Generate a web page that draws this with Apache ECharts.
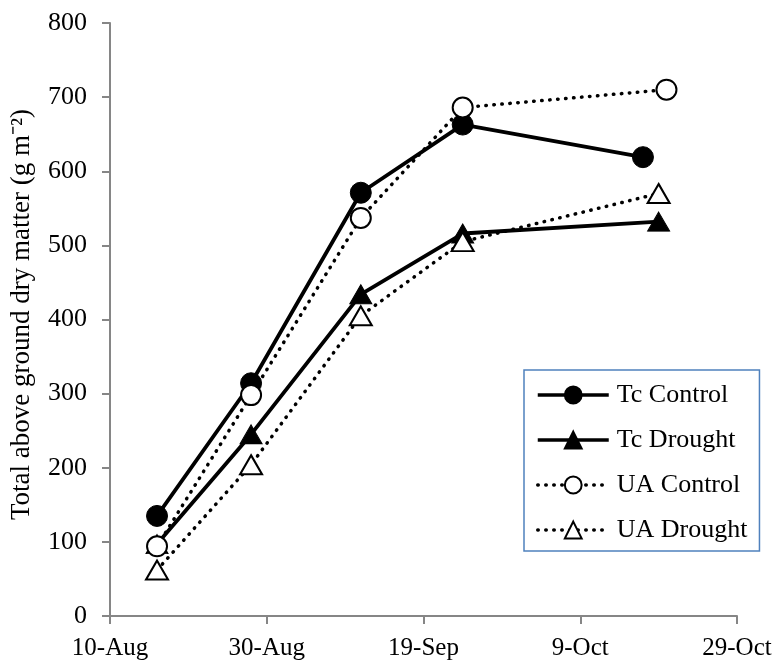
<!DOCTYPE html>
<html>
<head>
<meta charset="utf-8">
<script src="https://cdn.jsdelivr.net/npm/echarts@6/dist/echarts.min.js"></script>
<style>html,body{margin:0;padding:0;background:#fff;}#c{width:779px;height:669px;}</style>
</head>
<body>
<div id="c"></div>
<script>
// Data
var startDate = "2012-08-10";
var xTickLabels = ["10-Aug", "30-Aug", "19-Sep", "9-Oct", "29-Oct"];
var tcControlDates = ["2012-08-16", "2012-08-28", "2012-09-11", "2012-09-24", "2012-10-17"];
var tcControl = [135, 314, 571, 663, 619];
var tcDroughtDates = ["2012-08-16", "2012-08-28", "2012-09-11", "2012-09-24", "2012-10-19"];
var tcDrought = [97, 245, 434, 516, 532];
var uaControlDates = ["2012-08-16", "2012-08-28", "2012-09-11", "2012-09-24", "2012-10-20"];
var uaControl = [94, 298, 537, 686, 710];
var uaDroughtDates = ["2012-08-16", "2012-08-28", "2012-09-11", "2012-09-24", "2012-10-19"];
var uaDrought = [62, 204, 405, 505, 570];
var yTicks = [0, 100, 200, 300, 400, 500, 600, 700, 800];

function dayOffset(s) {
  var p = s.split("-"), q = startDate.split("-");
  return Math.round((Date.UTC(+p[0], +p[1]-1, +p[2]) - Date.UTC(+q[0], +q[1]-1, +q[2])) / 86400000);
}
function pairs(dates, vals) { return dates.map(function(d, i){ return [dayOffset(d), vals[i]]; }); }

var font = "'Liberation Serif', 'Times New Roman', serif";
var axisGray = '#868686';
var solid = {color: '#000', width: 3.8, type: 'solid'};
var dotted = {color: '#000', width: 3.5, type: [0.5, 7.5], cap: 'round'};

var chart = echarts.init(document.getElementById('c'), null, {renderer: 'canvas'});
chart.setOption({
  animation: false,
  backgroundColor: '#fff',
  grid: {left: 108, right: 42, top: 23, bottom: 53, containLabel: false},
  xAxis: {
    type: 'value', min: 0, max: 80, interval: 20,
    axisLine: {show: true, onZero: false, lineStyle: {color: axisGray, width: 2}},
    axisTick: {show: true, inside: false, length: 8, lineStyle: {color: axisGray, width: 2}},
    splitLine: {show: false},
    axisLabel: {margin: 20, color: '#000', fontFamily: font, fontSize: 25,
      formatter: function(v){ return xTickLabels[Math.round(v/20)]; }}
  },
  yAxis: {
    type: 'value', min: yTicks[0], max: yTicks[yTicks.length-1], interval: 100,
    axisLine: {show: true, lineStyle: {color: axisGray, width: 2}},
    axisTick: {show: true, inside: false, length: 8, lineStyle: {color: axisGray, width: 2}},
    splitLine: {show: false},
    axisLabel: {margin: 23, color: '#000', fontFamily: font, fontSize: 26},
    name: 'Total above ground dry matter (g m\u207B\u00B2)',
    nameLocation: 'middle', nameGap: 75, nameRotate: 90,
    nameTextStyle: {color: '#000', fontFamily: font, fontSize: 27, padding: [0, 0, 0, 10]}
  },
  legend: {
    left: 524, top: 370, orient: 'vertical',
    itemWidth: 71, itemHeight: 21, itemGap: 19,
    padding: [12, 12, 8, 12],
    borderColor: '#4F81BD', borderWidth: 1.5, backgroundColor: '#fff',
    lineStyle: {width: 3.5},
    textStyle: {color: '#000', fontFamily: font, fontSize: 26, padding: [0,0,0,3]},
    data: ['Tc Control', 'Tc Drought', 'UA Control', 'UA Drought']
  },
  series: [
    {name: 'Tc Control', type: 'line', data: pairs(tcControlDates, tcControl),
     symbol: 'circle', symbolSize: 21, lineStyle: solid,
     itemStyle: {color: '#000', borderColor: '#000', borderWidth: 1}},
    {name: 'Tc Drought', type: 'line', data: pairs(tcDroughtDates, tcDrought),
     symbol: 'triangle', symbolSize: [22, 19], lineStyle: solid,
     itemStyle: {color: '#000', borderColor: '#000', borderWidth: 1}},
    {name: 'UA Control', type: 'line', data: pairs(uaControlDates, uaControl),
     symbol: 'circle', symbolSize: 20, lineStyle: dotted,
     itemStyle: {color: '#fff', borderColor: '#000', borderWidth: 2}},
    {name: 'UA Drought', type: 'line', data: pairs(uaDroughtDates, uaDrought),
     symbol: 'triangle', symbolSize: [22, 19], lineStyle: dotted,
     itemStyle: {color: '#fff', borderColor: '#000', borderWidth: 2}}
  ]
});
</script>
</body>
</html>
